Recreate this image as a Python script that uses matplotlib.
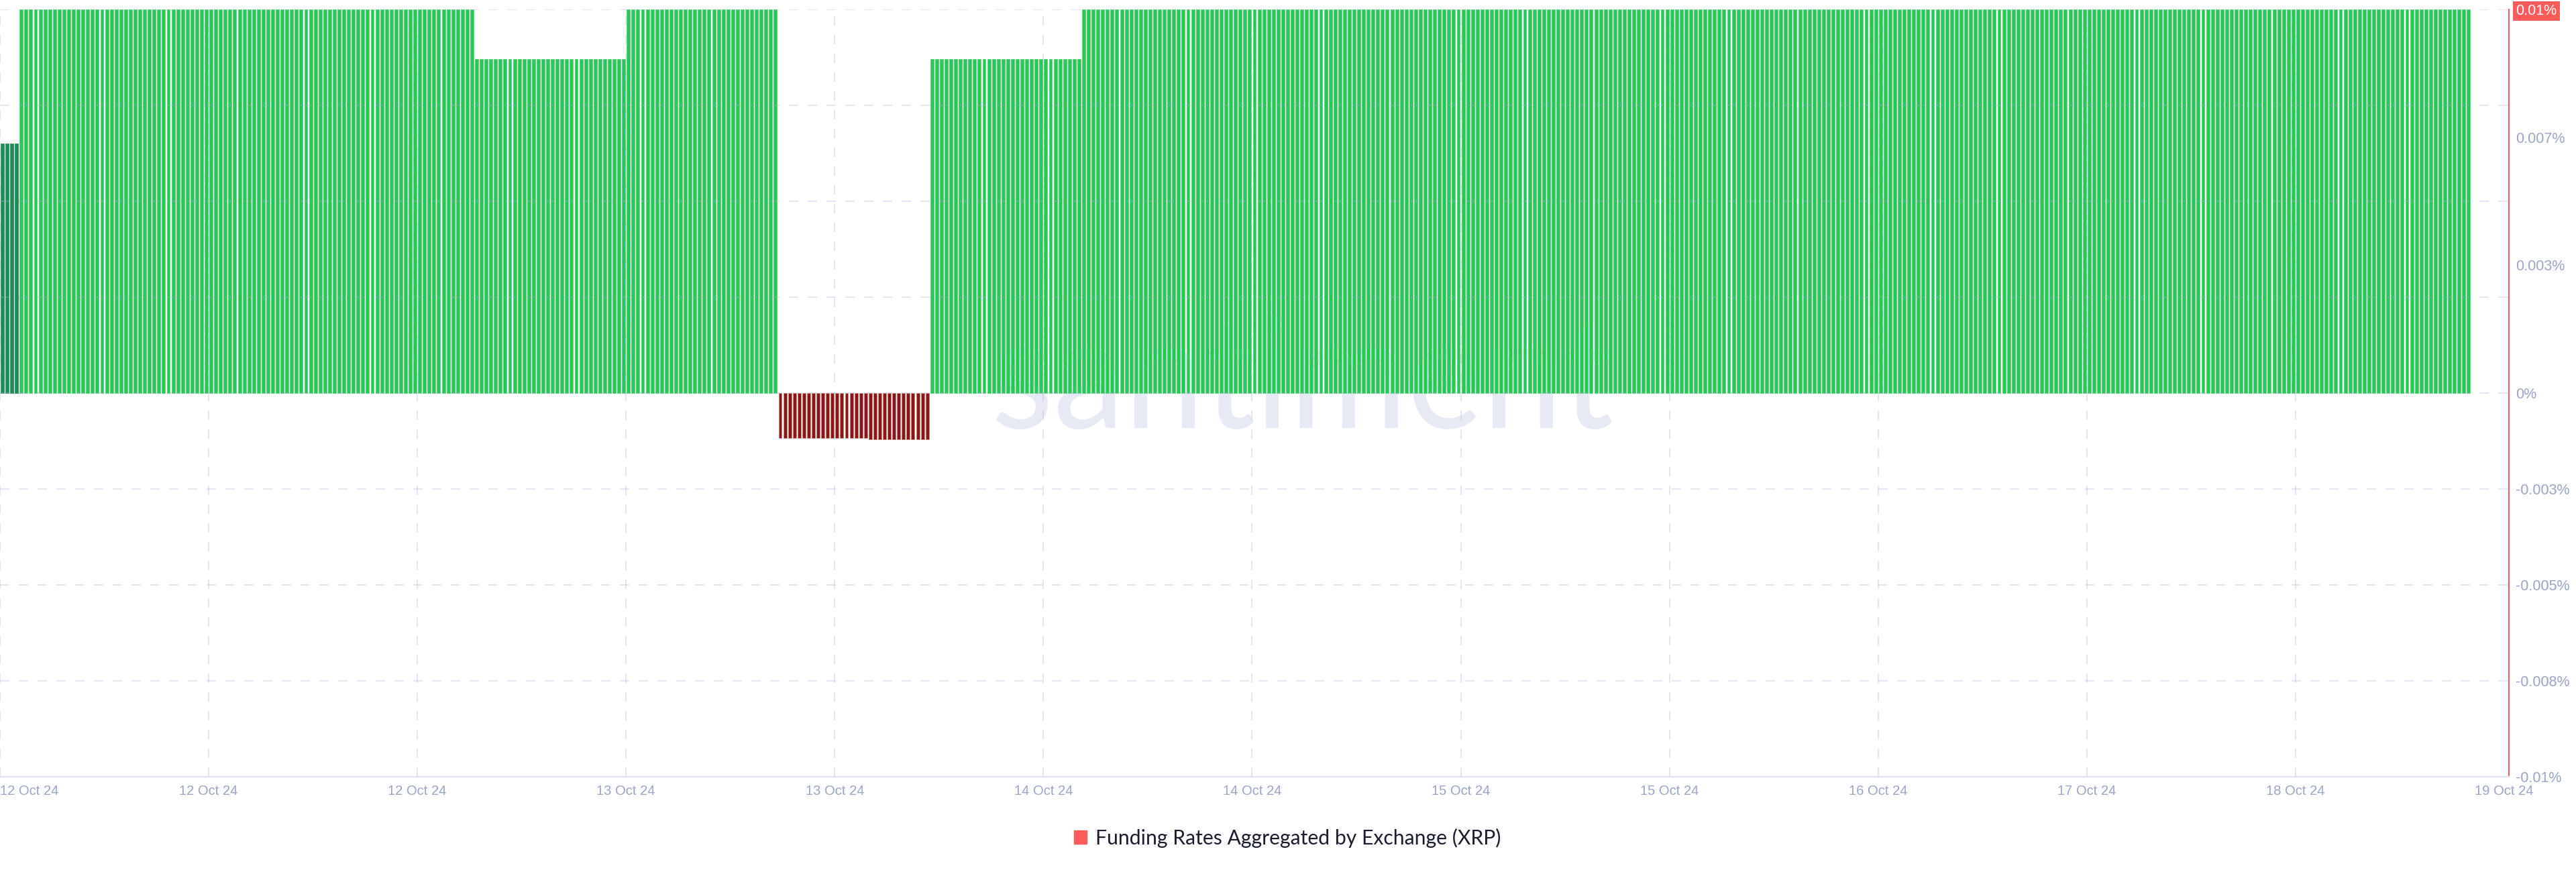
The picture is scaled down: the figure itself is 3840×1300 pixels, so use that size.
import numpy as np
import matplotlib
matplotlib.use('Agg')
import matplotlib.pyplot as plt
from matplotlib.patches import Patch, PathPatch
from matplotlib.textpath import TextPath
from matplotlib.font_manager import FontProperties
from matplotlib.transforms import Affine2D

# funding rate (%) per 8h period, and how many 15 min bars each period covers
period_rates = [0.0065, 0.01, 0.0087, 0.01, -0.00118, -0.00121, 0.0087, 0.01]
period_bars = [4, 96, 32, 32, 19, 13, 32, 293]
period_colors = ['#1e8c58', '#27c954', '#27c954', '#27c954', '#8b1616', '#8b1616', '#27c954', '#27c954']
period_edges = ['#3f9d70', '#63d987', '#63d987', '#63d987', '#c98888', '#c98888', '#63d987', '#63d987']

x_tick_labels = ['12 Oct 24', '12 Oct 24', '12 Oct 24', '13 Oct 24', '13 Oct 24', '14 Oct 24', '14 Oct 24',
                 '15 Oct 24', '15 Oct 24', '16 Oct 24', '17 Oct 24', '18 Oct 24', '19 Oct 24']
y_tick_values = [0.01, 0.02 / 3, 0.01 / 3, 0.0, -0.0025, -0.005, -0.0075, -0.01]
y_tick_labels = ['0.01%', '0.007%', '0.003%', '0%', '-0.003%', '-0.005%', '-0.008%', '-0.01%']
legend_label = 'Funding Rates Aggregated by Exchange (XRP)'

rates = np.repeat(period_rates, period_bars)
colors = np.repeat(period_colors, period_bars)
edges = np.repeat(period_edges, period_bars)
x = np.arange(len(rates))

W, H = 3840, 1300
fig = plt.figure(figsize=(W / 100, H / 100), dpi=100)
ax = fig.add_axes([0, (H - 1158) / H, 3740 / W, 1144 / H])

TICK_COLOR = '#9ba6c5'
GRID_COLOR = '#a5afd4'
px = 0.72  # one pixel in points

# watermark behind the bars
tp = TextPath((0, 0), 'santiment', size=100, prop=FontProperties(family='Lato'))
bb = tp.get_extents()
wx0, wx1, wtop, wbot = 1485, 2403, 468, 640
sx = (wx1 - wx0) / bb.width / W
sy = (wbot - wtop) / bb.height / H
tr = Affine2D().translate(-bb.x0, -bb.y0).scale(sx, sy).translate(wx0 / W, 1 - wbot / H) + fig.transFigure
wm = PathPatch(tp, transform=tr, facecolor='#e7e9f4', edgecolor='none', zorder=0)
ax.add_patch(wm)

ax.bar(x, rates, width=0.7, color=colors, edgecolor=edges, linewidth=px, zorder=2)

ax.set_xlim(-0.5, 528.5)
ax.set_ylim(-0.01, 0.01)

xticks = -0.5 + 44 * np.arange(len(x_tick_labels))
# dashed grid, drawn faintly over the bars
for xt in xticks[:-1]:
    ax.axvline(xt, color=GRID_COLOR, alpha=0.3, lw=2 * px, dashes=(7, 7), zorder=3)
for yt in np.arange(-0.0075, 0.0101, 0.0025):
    ax.axhline(yt, color=GRID_COLOR, alpha=0.3, lw=2 * px, dashes=(7, 7), zorder=3)

ax.set_xticks(xticks)
ax.set_xticklabels(x_tick_labels)
ax.tick_params(axis='x', length=0, pad=8.5, labelsize=14.5, labelcolor=TICK_COLOR)
ax.get_xticklabels()[0].set_horizontalalignment('left')

ax.yaxis.tick_right()
ax.set_yticks(y_tick_values)
ax.set_yticklabels(y_tick_labels)
ax.tick_params(axis='y', length=0, pad=7.5, labelsize=15.5, labelcolor=TICK_COLOR)
top = ax.get_yticklabels()[0]
top.set_color('white')
top.set_bbox(dict(boxstyle='square,pad=0.2', fc='#ff5b5b', ec='none'))

for lbl in ax.get_xticklabels() + ax.get_yticklabels():
    lbl.set_fontfamily('Liberation Sans')

ax.spines['top'].set_visible(False)
ax.spines['left'].set_visible(False)
ax.spines['right'].set_color('#f45d5d')
ax.spines['right'].set_linewidth(2 * px)
ax.spines['bottom'].set_color('#e3e6f0')
ax.spines['bottom'].set_linewidth(2.5 * px)

fig.legend(handles=[Patch(color='#ff5b5b')], labels=[legend_label], loc='center',
           bbox_to_anchor=(1919.5 / W, 1 - 1249 / H), frameon=False, handlelength=0.62,
           handleheight=0.62, handletextpad=0.45,
           prop=dict(family='Lato', size=21.7), labelcolor='#1a1d2e')

fig.savefig('out.png', dpi=100, facecolor='white')
